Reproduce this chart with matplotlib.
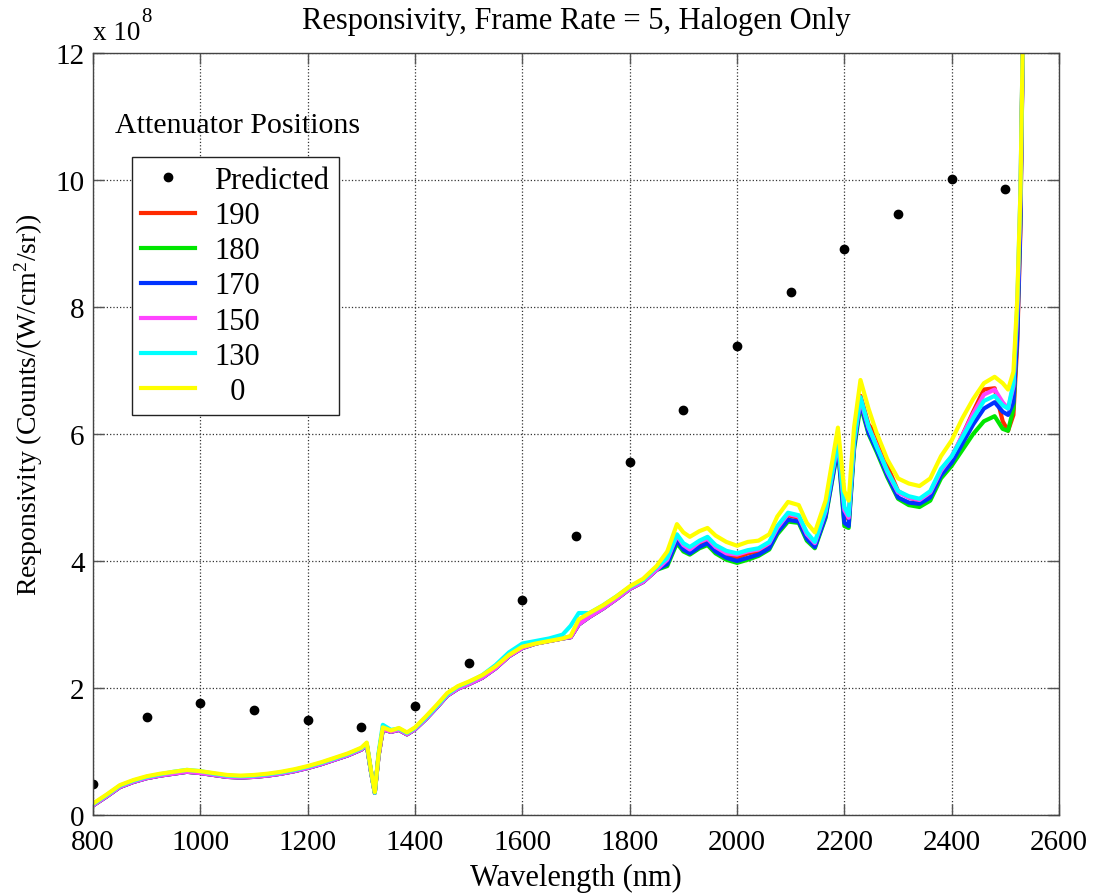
import numpy as np
import matplotlib
matplotlib.use("Agg")
import matplotlib.pyplot as plt

plt.rcParams['font.family'] = ['Liberation Serif', 'DejaVu Serif']
plt.rcParams['mathtext.fontset'] = 'custom'
plt.rcParams['mathtext.rm'] = 'Liberation Serif'
plt.rcParams['mathtext.it'] = 'Liberation Serif:italic'

# predicted responsivity (x 1e8)
pred_wl = [800, 900, 1000, 1100, 1200, 1300, 1400, 1500, 1600, 1700,
           1800, 1900, 2000, 2100, 2200, 2300, 2400, 2500]
pred_val = [0.48, 1.55, 1.77, 1.66, 1.49, 1.38, 1.71, 2.40, 3.38, 4.40,
            5.56, 6.38, 7.38, 8.23, 8.92, 9.47, 10.02, 9.86]

# measured curves, wavelength grid (nm)
wl = [800, 825, 850, 875, 900, 925, 950, 975, 1000, 1025,
      1050, 1075, 1100, 1125, 1150, 1175, 1200, 1225, 1250, 1275,
      1300, 1310, 1318, 1325, 1332, 1340, 1355, 1370, 1385, 1400,
      1420, 1440, 1460, 1480, 1500, 1525, 1550, 1575, 1600, 1625,
      1650, 1675, 1690, 1705, 1725, 1750, 1775, 1800, 1825, 1850,
      1870, 1888, 1900, 1912, 1930, 1945, 1960, 1980, 2000, 2020,
      2040, 2060, 2075, 2095, 2115, 2130, 2145, 2165, 2188, 2200,
      2208, 2218, 2230, 2245, 2260, 2280, 2300, 2320, 2340, 2360,
      2380, 2400, 2420, 2440, 2460, 2480, 2495, 2505, 2515, 2522,
      2528, 2533]

# below 1850 nm the 190/180/170/150 curves lie on top of each other
low_common = [0.15, 0.29, 0.44, 0.52, 0.58, 0.62, 0.65, 0.68, 0.66, 0.63,
              0.60, 0.59, 0.60, 0.62, 0.65, 0.69, 0.74, 0.80, 0.87, 0.94,
              1.03, 1.11, 0.68, 0.35, 0.93, 1.35, 1.31, 1.34, 1.27, 1.35,
              1.51, 1.69, 1.88, 1.99, 2.06, 2.16, 2.31, 2.50, 2.63, 2.70,
              2.74, 2.78, 2.80, 3.00, 3.12, 3.25, 3.40, 3.56, 3.67, 3.86]
low_130 = [0.17, 0.31, 0.46, 0.54, 0.60, 0.64, 0.68, 0.71, 0.69, 0.65,
           0.62, 0.61, 0.62, 0.64, 0.67, 0.71, 0.76, 0.82, 0.89, 0.96,
           1.05, 1.13, 0.69, 0.35, 0.97, 1.42, 1.34, 1.36, 1.29, 1.37,
           1.53, 1.71, 1.90, 2.02, 2.09, 2.20, 2.36, 2.56, 2.70, 2.74,
           2.78, 2.84, 2.98, 3.18, 3.18, 3.30, 3.44, 3.59, 3.70, 3.90]
low_0 = [0.18, 0.32, 0.47, 0.55, 0.61, 0.65, 0.68, 0.71, 0.69, 0.66,
         0.63, 0.62, 0.63, 0.65, 0.68, 0.72, 0.77, 0.83, 0.90, 0.97,
         1.06, 1.14, 0.70, 0.36, 0.95, 1.38, 1.33, 1.37, 1.30, 1.38,
         1.55, 1.73, 1.92, 2.03, 2.10, 2.20, 2.34, 2.52, 2.65, 2.70,
         2.74, 2.78, 2.82, 3.08, 3.18, 3.30, 3.44, 3.60, 3.72, 3.92]

high_190 = [4.00, 4.38, 4.22, 4.15, 4.28, 4.32, 4.20, 4.08, 4.05, 4.12,
            4.15, 4.25, 4.50, 4.72, 4.68, 4.42, 4.26, 4.76, 5.85, 4.75,
            4.65, 5.85, 6.60, 6.15, 5.98, 5.50, 5.10, 5.00, 4.95, 5.05,
            5.40, 5.62, 5.98, 6.35, 6.70, 6.72, 6.20, 6.05, 6.30, 7.40,
            9.20, 12.5]
high_180 = [3.92, 4.28, 4.15, 4.10, 4.20, 4.25, 4.12, 4.02, 3.97, 4.02,
            4.08, 4.18, 4.42, 4.62, 4.60, 4.32, 4.20, 4.68, 5.78, 4.55,
            4.52, 5.75, 6.45, 6.00, 5.72, 5.32, 4.98, 4.88, 4.85, 4.95,
            5.30, 5.50, 5.75, 6.00, 6.20, 6.28, 6.08, 6.05, 6.40, 7.60,
            9.50, 12.5]
high_170 = [3.95, 4.32, 4.18, 4.12, 4.22, 4.28, 4.15, 4.05, 4.00, 4.05,
            4.10, 4.20, 4.45, 4.65, 4.62, 4.35, 4.22, 4.70, 5.80, 4.60,
            4.55, 5.80, 6.50, 6.02, 5.75, 5.35, 5.00, 4.92, 4.90, 5.00,
            5.35, 5.55, 5.85, 6.15, 6.40, 6.50, 6.35, 6.30, 6.50, 7.50,
            9.30, 12.5]
high_150 = [4.02, 4.40, 4.25, 4.18, 4.30, 4.35, 4.22, 4.12, 4.10, 4.15,
            4.18, 4.28, 4.52, 4.74, 4.70, 4.42, 4.28, 4.78, 5.88, 4.80,
            4.68, 5.88, 6.55, 6.10, 5.82, 5.40, 5.08, 5.00, 4.96, 5.08,
            5.42, 5.65, 5.98, 6.32, 6.62, 6.70, 6.50, 6.40, 6.75, 7.90,
            9.70, 12.5]
high_130 = [4.05, 4.42, 4.28, 4.22, 4.32, 4.38, 4.25, 4.16, 4.12, 4.17,
            4.20, 4.30, 4.55, 4.76, 4.72, 4.45, 4.30, 4.80, 5.90, 4.85,
            4.72, 5.90, 6.58, 6.12, 5.80, 5.42, 5.10, 5.02, 4.98, 5.10,
            5.45, 5.65, 5.95, 6.25, 6.52, 6.60, 6.45, 6.40, 6.80, 8.00,
            9.80, 12.5]
high_0 = [4.15, 4.58, 4.45, 4.38, 4.47, 4.52, 4.40, 4.30, 4.24, 4.30,
          4.32, 4.42, 4.70, 4.93, 4.88, 4.60, 4.45, 4.95, 6.10, 5.10,
          4.95, 6.10, 6.85, 6.40, 6.02, 5.60, 5.30, 5.22, 5.18, 5.30,
          5.65, 5.90, 6.25, 6.55, 6.80, 6.90, 6.80, 6.70, 6.98, 8.10,
          9.80, 12.5]

positions = ['190', '180', '170', '150', '130', '  0']
curves = [low_common + high_190, low_common + high_180, low_common + high_170,
          low_common + high_150, low_130 + high_130, low_0 + high_0]
colors = ['#ff2a00', '#00e600', '#0033ff', '#ff44ff', '#00ffff', '#ffff00']

fig = plt.figure(figsize=(10.97, 8.95), dpi=100)
ax = fig.add_axes([0.0848, 0.0883, 0.8806, 0.8514])

ax.plot(pred_wl, pred_val, 'k.', markersize=12, label='Predicted')
for lab, y, c in zip(positions, curves, colors):
    ax.plot(wl, y, color=c, linewidth=3, label=lab)

ax.set_xlim(800, 2600)
ax.set_ylim(0, 12)
ax.set_xticks(np.arange(800, 2601, 200))
ax.set_yticks(np.arange(0, 13, 2))
ax.grid(True, linestyle=':', color='#333333', linewidth=0.9)
ax.tick_params(direction='in', length=8, width=1, color='#555555',
               labelsize=21, top=True, right=True)
ax.tick_params(axis='x', pad=10)
ax.tick_params(axis='y', pad=6)
for s in ax.spines.values():
    s.set_color('#444444')
    s.set_linewidth(1)

ax.set_xlabel('Wavelength (nm)', fontsize=22, labelpad=6)
ax.set_ylabel('Responsivity (Counts/(W/cm$^2$/sr))', fontsize=20)
ax.yaxis.set_label_coords(-0.05, 0.54)
ax.set_title('Responsivity, Frame Rate = 5, Halogen Only', fontsize=22, pad=18)
ax.text(0.0, 1.018, 'x 10', transform=ax.transAxes, fontsize=19.5,
        ha='left', va='baseline')
ax.text(0.05, 1.042, '8', transform=ax.transAxes, fontsize=15,
        ha='left', va='baseline')

ax.text(0.023, 0.905, 'Attenuator Positions', transform=ax.transAxes,
        fontsize=21.5, ha='left', va='center')
leg = ax.legend(loc='upper left', bbox_to_anchor=(0.0404, 0.8635),
                fontsize=22, frameon=True, fancybox=False, edgecolor='#222222',
                framealpha=1, handlelength=1.75, labelspacing=0.2,
                borderpad=0.3, handletextpad=0.65, borderaxespad=0)
leg.get_frame().set_linewidth(1)

fig.savefig('out.png', dpi=100)
